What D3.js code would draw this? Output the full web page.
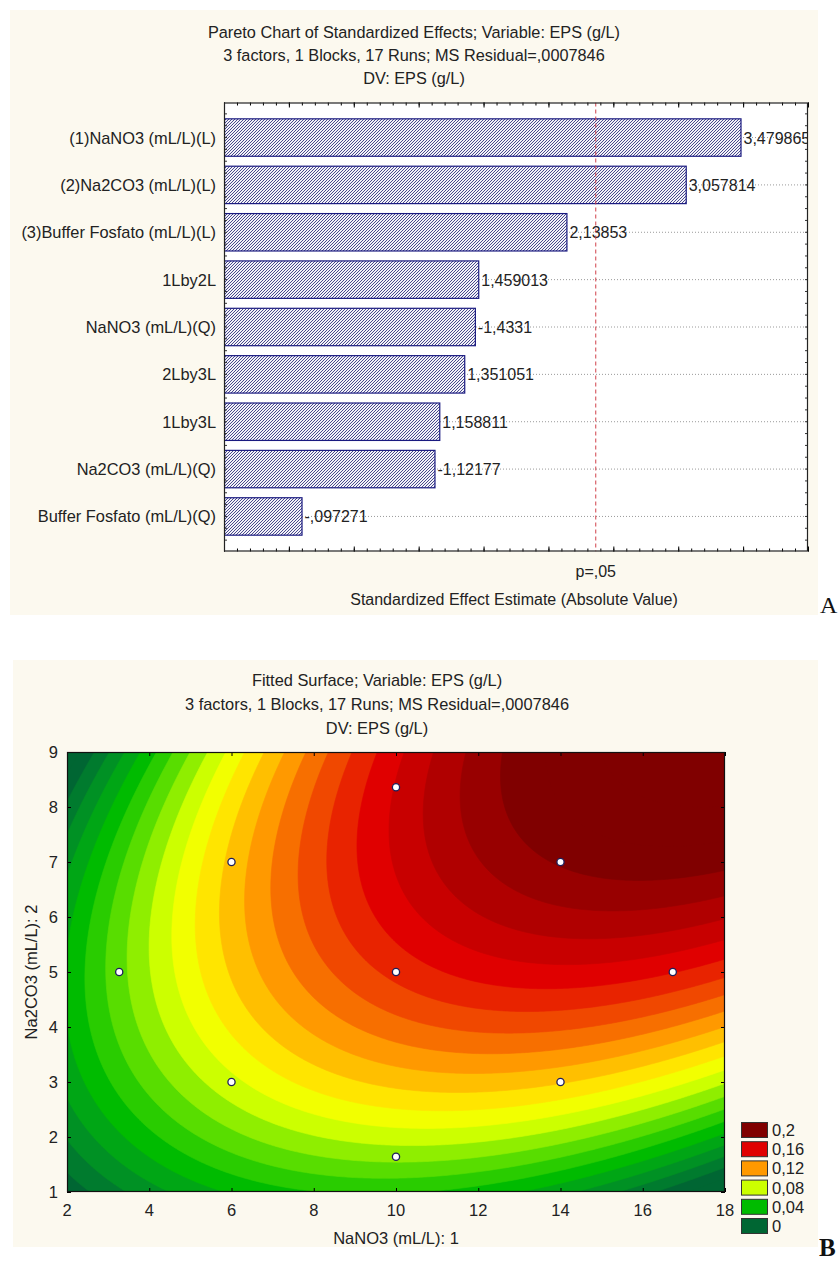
<!DOCTYPE html>
<html><head><meta charset="utf-8">
<script src="https://cdn.jsdelivr.net/npm/d3@7"></script>
<style>
html,body{margin:0;padding:0;background:#fff;}
svg{display:block;font-family:"Liberation Sans",Arial,sans-serif;}
</style></head><body>
<svg id="chart" width="838" height="1264"></svg>
<script>
// ================= DATA : panel A (Pareto chart) =================
const titleA = ["Pareto Chart of Standardized Effects; Variable: EPS (g/L)",
                "3 factors, 1 Blocks, 17 Runs; MS Residual=,0007846",
                "DV: EPS (g/L)"];
const effectTerms = ["(1)NaNO3 (mL/L)(L)", "(2)Na2CO3 (mL/L)(L)", "(3)Buffer Fosfato (mL/L)(L)",
                     "1Lby2L", "NaNO3 (mL/L)(Q)", "2Lby3L", "1Lby3L",
                     "Na2CO3 (mL/L)(Q)", "Buffer Fosfato (mL/L)(Q)"];
const effectValues = [3.479865, 3.057814, 2.13853, 1.459013, -1.4331, 1.351051, 1.158811, -1.12177, -0.097271];
const pCritical = 2.3646;
const pLabel = "p=,05";
const xTitleA = "Standardized Effect Estimate (Absolute Value)";
const xDomainA = [-0.5, 4.0];

// ================= DATA : panel B (fitted surface) =================
const titleB = ["Fitted Surface; Variable: EPS (g/L)",
                "3 factors, 1 Blocks, 17 Runs; MS Residual=,0007846",
                "DV: EPS (g/L)"];
const xTitleB = "NaNO3 (mL/L): 1";
const yTitleB = "Na2CO3 (mL/L): 2";
// fitted quadratic model in coded units
const surfaceTerms = ["Intercept", "NaNO3 (L)", "Na2CO3 (L)", "NaNO3 x Na2CO3", "NaNO3 (Q)", "Na2CO3 (Q)"];
const surfaceCoefs = [0.153, 0.028, 0.029, 0.016, -0.014, -0.011];
const factorCenter = [10, 5];
const factorStep = [4, 2];
const designNaNO3  = [3.27, 6, 6, 10, 10, 10, 14, 14, 16.73];
const designNa2CO3 = [5, 3, 7, 1.64, 5, 8.36, 3, 7, 5];
const xTicksB = [2, 4, 6, 8, 10, 12, 14, 16, 18];
const yTicksB = [1, 2, 3, 4, 5, 6, 7, 8, 9];
const legendLevels = [0.2, 0.16, 0.12, 0.08, 0.04, 0];
const legendLabels = ["0,2", "0,16", "0,12", "0,08", "0,04", "0"];
const legendColors = ["#800000", "#e00000", "#ff9900", "#ccff00", "#00bb00", "#006633"];
const contourStep = 0.01;

// ================= DRAWING =================
const svg = d3.select("#chart");
const cream = "#fcf9ef";
const defs = svg.append("defs");

// ---------- Panel A ----------
svg.append("rect").attr("x", 10).attr("y", 10).attr("width", 808).attr("height", 605).attr("fill", cream);
const A = {l: 224, r: 808, t: 102.5, b: 551.5};
const xA = d3.scaleLinear().domain(xDomainA).range([A.l, A.r]);
const yA = d3.scalePoint().domain(effectTerms).range([A.t, A.b]).padding(0.74);
const barH = yA.step() * 0.79;

svg.append("g").selectAll("text").data(titleA).join("text")
  .attr("x", 414).attr("y", (d, i) => 38 + i * 23)
  .attr("text-anchor", "middle").attr("font-size", 16.3).attr("fill", "#222").text(d => d);

svg.append("rect").attr("x", A.l).attr("y", A.t).attr("width", A.r - A.l).attr("height", A.b - A.t).attr("fill", "#fff");

const hatch = defs.append("pattern").attr("id", "hatch").attr("patternUnits", "userSpaceOnUse")
  .attr("width", 3).attr("height", 3);
hatch.append("rect").attr("width", 3).attr("height", 3).attr("fill", "#f2f2f8");
hatch.append("path").attr("d", "M-1,1 l2,-2 M0,3 l3,-3 M2,4 l2,-2")
  .attr("stroke", "#2a2a78").attr("stroke-width", 0.85);

defs.append("clipPath").attr("id", "clipA").append("rect")
  .attr("x", A.l).attr("y", A.t).attr("width", A.r - A.l).attr("height", A.b - A.t);

const gA = svg.append("g").attr("clip-path", "url(#clipA)");
gA.selectAll("line.grid").data(effectTerms).join("line").attr("class", "grid")
  .attr("x1", A.l).attr("x2", A.r).attr("y1", d => yA(d)).attr("y2", d => yA(d))
  .attr("stroke", "#9a9a9a").attr("stroke-width", 1).attr("stroke-dasharray", "1,2");

const rows = effectTerms.map((t, i) => ({term: t, value: effectValues[i]}));
gA.selectAll("rect.bar").data(rows).join("rect").attr("class", "bar")
  .attr("x", xA(xDomainA[0]) + 0.5).attr("y", d => yA(d.term) - barH / 2)
  .attr("width", d => xA(Math.abs(d.value)) - xA(xDomainA[0]))
  .attr("height", barH).attr("fill", "url(#hatch)").attr("stroke", "#1a1a80").attr("stroke-width", 1.2);

const fmt = v => (v < 0 ? "-" : "") + String(Math.abs(v)).replace(/^0/, "").replace(".", ",");
gA.selectAll("text.val").data(rows).join("text").attr("class", "val")
  .attr("x", d => xA(Math.abs(d.value)) + 3).attr("y", d => yA(d.term) + 6)
  .attr("font-size", 16).attr("fill", "#222").text(d => fmt(d.value));

gA.append("line").attr("x1", xA(pCritical)).attr("x2", xA(pCritical)).attr("y1", A.t).attr("y2", A.b)
  .attr("stroke", "#d0404a").attr("stroke-width", 1).attr("stroke-dasharray", "4,3");

// ticks panel A
const minorA = xA.ticks(45), majorA = xA.ticks(9);
svg.append("g").attr("transform", `translate(0,${A.b})`)
  .call(d3.axisBottom(xA).tickValues(minorA).tickSize(-3).tickFormat("")).call(g => g.select(".domain").remove());
svg.append("g").attr("transform", `translate(0,${A.b})`)
  .call(d3.axisBottom(xA).tickValues(majorA).tickSize(-5).tickFormat("")).call(g => g.select(".domain").remove());
svg.append("g").attr("transform", `translate(0,${A.t})`)
  .call(d3.axisTop(xA).tickValues(minorA).tickSize(-3).tickFormat("")).call(g => g.select(".domain").remove());
svg.append("g").attr("transform", `translate(0,${A.t})`)
  .call(d3.axisTop(xA).tickValues(majorA).tickSize(-5).tickFormat("")).call(g => g.select(".domain").remove());
const quarterY = d3.range(A.t + yA.step() * 0.24, A.b, yA.step() / 4);
[A.l, A.r].forEach((xx, k) => {
  const dir = k === 0 ? 1 : -1;
  svg.append("g").selectAll("line").data(quarterY).join("line")
    .attr("x1", xx).attr("x2", xx + dir * 3).attr("y1", d => d).attr("y2", d => d)
    .attr("stroke", "#333").attr("stroke-width", 1);
});
svg.append("rect").attr("x", A.l + 0.5).attr("y", A.t + 0.5).attr("width", A.r - A.l - 1).attr("height", A.b - A.t - 1)
  .attr("fill", "none").attr("stroke", "#222").attr("stroke-width", 1.2);

svg.append("g").selectAll("text").data(effectTerms).join("text")
  .attr("x", A.l - 8).attr("y", d => yA(d) + 6).attr("text-anchor", "end")
  .attr("font-size", 16.4).attr("fill", "#222").text(d => d);
svg.append("text").attr("x", xA(pCritical)).attr("y", 577).attr("text-anchor", "middle")
  .attr("font-size", 16).attr("fill", "#222").text(pLabel);
svg.append("text").attr("x", (A.l + A.r) / 2 - 2).attr("y", 605).attr("text-anchor", "middle")
  .attr("font-size", 16).attr("fill", "#222").text(xTitleA);
svg.append("text").attr("x", 820).attr("y", 613).attr("font-family", "'Liberation Serif',serif")
  .attr("font-size", 24).attr("fill", "#111").text("A");

// ---------- Panel B ----------
svg.append("rect").attr("x", 13).attr("y", 660).attr("width", 805).attr("height", 587).attr("fill", cream);
const B = {l: 67, r: 725, t: 752, b: 1192};
const xB = d3.scaleLinear().domain([2, 18]).range([B.l, B.r]);
const yB = d3.scaleLinear().domain([1, 9]).range([B.b, B.t]);

svg.append("g").selectAll("text").data(titleB).join("text")
  .attr("x", 377).attr("y", (d, i) => 686 + i * 24)
  .attr("text-anchor", "middle").attr("font-size", 16.4).attr("fill", "#222").text(d => d);

const surface = (x, y) => {
  const X1 = (x - factorCenter[0]) / factorStep[0];
  const X2 = (y - factorCenter[1]) / factorStep[1];
  const basis = [1, X1, X2, X1 * X2, X1 * X1, X2 * X2];
  return d3.sum(basis, (b, i) => b * surfaceCoefs[i]);
};

const cell = 2;
const nx = Math.round((B.r - B.l) / cell), ny = Math.round((B.b - B.t) / cell);
const cw = (B.r - B.l) / nx, ch = (B.b - B.t) / ny;
const grid = new Array(nx * ny);
for (let j = 0; j < ny; j++) for (let i = 0; i < nx; i++) {
  grid[j * nx + i] = surface(xB.invert(B.l + (i + 0.5) * cw), yB.invert(B.t + (j + 0.5) * ch));
}
const zExt = d3.extent(grid);
const thresholds = d3.range(Math.floor(zExt[0] / contourStep) - 1, Math.ceil(zExt[1] / contourStep) + 1)
  .map(k => +(k * contourStep).toFixed(4));
const contours = d3.contours().size([nx, ny]).thresholds(thresholds)(grid);

const colorB = d3.scaleLinear().domain(legendLevels.slice().reverse()).range(legendColors.slice().reverse())
  .interpolate(d3.interpolateHsl).clamp(true);

defs.append("clipPath").attr("id", "clipB").append("rect")
  .attr("x", B.l).attr("y", B.t).attr("width", B.r - B.l).attr("height", B.b - B.t);
const proj = d3.geoTransform({point(x, y) { this.stream.point(B.l + x * cw, B.t + y * ch); }});
const path = d3.geoPath(proj);
svg.append("g").attr("clip-path", "url(#clipB)").selectAll("path").data(contours).join("path")
  .attr("d", path).attr("fill", d => colorB(d.value))
  .attr("stroke", d => colorB(d.value)).attr("stroke-width", 0.6);

// design points
svg.append("g").selectAll("circle").data(designNaNO3.map((x, i) => [x, designNa2CO3[i]])).join("circle")
  .attr("cx", d => xB(d[0])).attr("cy", d => yB(d[1])).attr("r", 3.6)
  .attr("fill", "#fff").attr("stroke", "#1e1e5a").attr("stroke-width", 1.3);

// frame & inward ticks
svg.append("g").attr("transform", `translate(0,${B.b})`)
  .call(d3.axisBottom(xB).tickValues(xTicksB).tickSize(-4).tickFormat("")).call(g => g.select(".domain").remove());
svg.append("g").attr("transform", `translate(0,${B.t})`)
  .call(d3.axisTop(xB).tickValues(xTicksB).tickSize(-4).tickFormat("")).call(g => g.select(".domain").remove());
svg.append("g").attr("transform", `translate(${B.l},0)`)
  .call(d3.axisLeft(yB).tickValues(yTicksB).tickSize(-4).tickFormat("")).call(g => g.select(".domain").remove());
svg.append("g").attr("transform", `translate(${B.r},0)`)
  .call(d3.axisRight(yB).tickValues(yTicksB).tickSize(-4).tickFormat("")).call(g => g.select(".domain").remove());
svg.append("rect").attr("x", B.l + 0.5).attr("y", B.t + 0.5).attr("width", B.r - B.l - 1).attr("height", B.b - B.t - 1)
  .attr("fill", "none").attr("stroke", "#111").attr("stroke-width", 1.2);

svg.append("g").selectAll("text").data(xTicksB).join("text")
  .attr("x", d => xB(d)).attr("y", B.b + 24).attr("text-anchor", "middle")
  .attr("font-size", 16.5).attr("fill", "#222").text(d => d);
svg.append("g").selectAll("text").data(yTicksB).join("text")
  .attr("x", B.l - 9).attr("y", d => yB(d) + 6).attr("text-anchor", "end")
  .attr("font-size", 16.5).attr("fill", "#222").text(d => d);
svg.append("text").attr("x", (B.l + B.r) / 2).attr("y", 1244).attr("text-anchor", "middle")
  .attr("font-size", 16.5).attr("fill", "#222").text(xTitleB);
svg.append("text").attr("transform", `translate(37,${(B.t + B.b) / 2}) rotate(-90)`).attr("text-anchor", "middle")
  .attr("font-size", 16.5).attr("fill", "#222").text(yTitleB);

// legend
const lg = svg.append("g");
legendLevels.forEach((lv, i) => {
  const cy = 1130 + i * 19.2;
  lg.append("rect").attr("x", 741.5).attr("y", cy - 7.5).attr("width", 26).attr("height", 15)
    .attr("fill", legendColors[i]).attr("stroke", "#333").attr("stroke-width", 1);
  lg.append("text").attr("x", 772).attr("y", cy + 6).attr("font-size", 16.5).attr("fill", "#222").text(legendLabels[i]);
});
svg.append("text").attr("x", 819).attr("y", 1256).attr("font-family", "'Liberation Serif',serif")
  .attr("font-weight", "bold").attr("font-size", 25).attr("fill", "#111").text("B");
</script>
</body></html>
